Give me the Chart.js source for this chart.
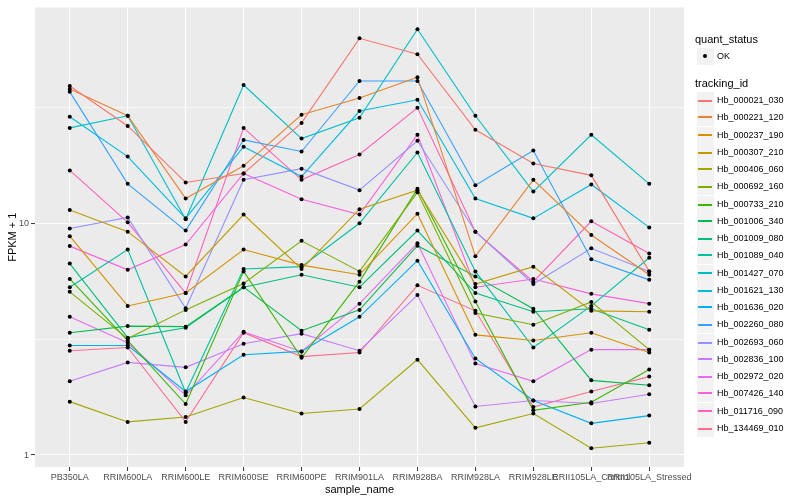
<!DOCTYPE html>
<html><head><meta charset="utf-8">
<script src="https://cdn.jsdelivr.net/npm/chart.js@4/dist/chart.umd.min.js"></script>
<style>
html,body{margin:0;padding:0;background:#fff;}
#wrap{position:relative;width:800px;height:500px;overflow:hidden;}
#c{position:absolute;left:0;top:0;}
.lg{position:absolute;font-family:"Liberation Sans",Arial,sans-serif;color:#000;white-space:nowrap;line-height:1;}
.lt{font-size:11px;}
.li{font-size:9px;}
.key{position:absolute;background:#F2F2F2;width:17px;height:17px;}
.ln{position:absolute;width:14px;height:2px;}
.key .pt{position:absolute;left:6px;top:6px;width:4px;height:4px;border-radius:50%;background:#000;}
</style></head><body>
<div id="wrap"><canvas id="c" width="800" height="500"></canvas><div id="legend"></div></div>
<script>
// ---- data ----
const categories = ["PB350LA","RRIM600LA","RRIM600LE","RRIM600SE","RRIM600PE","RRIM901LA","RRIM928BA","RRIM928LA","RRIM928LE","RRII105LA_Control","RRII105LA_Stressed"];
const trackingIds = ["Hb_000021_030","Hb_000221_120","Hb_000237_190","Hb_000307_210","Hb_000406_060","Hb_000692_160","Hb_000733_210","Hb_001006_340","Hb_001009_080","Hb_001089_040","Hb_001427_070","Hb_001621_130","Hb_001636_020","Hb_002260_080","Hb_002693_060","Hb_002836_100","Hb_002972_020","Hb_007426_140","Hb_011716_090","Hb_134469_010"];
const quantStatus = ["OK"];
const yTickValues = [1, 3.1623, 10, 31.623];
const yTickLabels = ["1", "", "10", ""];

const hb_000021_030 = [39.1, 26.3, 15.0, 16.4, 27.1, 62.8, 53.6, 25.3, 18.1, 16.1, 6.2];
const hb_000221_120 = [38.0, 29.1, 12.8, 17.7, 29.4, 34.7, 42.7, 7.2, 15.4, 8.9, 6.0];
const hb_000237_190 = [8.8, 4.4, 5.0, 7.7, 6.6, 6.0, 11.0, 3.3, 3.12, 3.37, 2.77];
const hb_000307_210 = [11.4, 9.2, 5.9, 10.9, 6.35, 11.5, 13.9, 5.47, 6.5, 4.19, 4.15];
const hb_000406_060 = [1.7, 1.39, 1.46, 1.77, 1.51, 1.58, 2.58, 1.31, 1.51, 1.07, 1.13];
const hb_000692_160 = [5.06, 3.18, 4.23, 5.5, 8.4, 6.2, 13.6, 4.1, 3.65, 4.58, 2.85];
const hb_000733_210 = [5.75, 3.12, 1.66, 6.2, 2.63, 5.6, 14.1, 4.6, 1.56, 1.69, 2.34];
const hb_001006_340 = [3.37, 3.6, 3.58, 5.3, 3.44, 4.23, 8.0, 5.9, 4.28, 2.1, 2.0];
const hb_001009_080 = [6.7, 3.21, 3.54, 5.3, 6.0, 5.3, 9.3, 5.0, 4.15, 4.28, 3.47];
const hb_001089_040 = [5.3, 7.7, 1.86, 6.35, 6.5, 10.0, 20.2, 6.2, 2.91, 4.4, 7.1];
const hb_001427_070 = [25.8, 29.1, 10.4, 39.5, 23.2, 28.5, 68.7, 29.1, 13.7, 24.1, 14.8];
const hb_001621_130 = [28.8, 19.4, 10.5, 21.4, 15.9, 30.5, 34.1, 12.8, 10.5, 14.7, 9.6];
const hb_001636_020 = [2.97, 2.97, 1.88, 2.71, 2.8, 3.95, 6.9, 2.61, 1.72, 1.37, 1.48];
const hb_002260_080 = [36.9, 14.8, 9.3, 22.9, 20.4, 41.1, 41.1, 14.6, 20.6, 7.0, 5.7];
const hb_002693_060 = [9.5, 10.6, 4.3, 15.4, 17.2, 13.9, 22.7, 9.2, 5.47, 7.8, 6.2];
const hb_002836_100 = [2.08, 2.51, 2.39, 3.02, 3.34, 2.82, 4.9, 1.62, 1.72, 1.67, 1.83];
const hb_002972_020 = [3.95, 3.05, 1.81, 3.4, 2.8, 4.5, 8.2, 2.48, 2.08, 2.85, 2.85];
const hb_007426_140 = [7.97, 6.3, 8.1, 16.4, 12.7, 10.9, 24.1, 5.3, 5.75, 4.96, 4.5];
const hb_011716_090 = [16.9, 10.1, 5.0, 25.8, 15.4, 19.8, 31.5, 9.2, 5.6, 10.2, 7.4];
const hb_134469_010 = [2.82, 2.91, 1.39, 3.37, 2.66, 2.77, 5.4, 4.19, 1.61, 1.88, 2.18];

const seriesValues = [hb_000021_030, hb_000221_120, hb_000237_190, hb_000307_210, hb_000406_060,
  hb_000692_160, hb_000733_210, hb_001006_340, hb_001009_080, hb_001089_040, hb_001427_070,
  hb_001621_130, hb_001636_020, hb_002260_080, hb_002693_060, hb_002836_100, hb_002972_020,
  hb_007426_140, hb_011716_090, hb_134469_010];

// ---- styles ----
const colors = ["#F8766D","#EA8331","#D89000","#C09B00","#A3A500","#7CAE00","#39B600","#00BB4E","#00BF7D","#00C1A3","#00BFC4","#00BAE0","#00B0F6","#35A2FF","#9590FF","#C77CFF","#E76BF3","#FA62DB","#FF62BC","#FF6C91"];
const FONT = "'Liberation Sans', Arial, sans-serif";

const toXY = vals => vals.map((v, j) => ({x: j, y: v}));
const lineSets = trackingIds.map((id, i) => ({
  label: id, data: toXY(seriesValues[i]), borderColor: colors[i], backgroundColor: colors[i],
  borderWidth: 1.1, pointRadius: 0, fill: false, tension: 0, order: 2
}));
const pointSets = trackingIds.map((id, i) => ({
  label: id + " (" + quantStatus[0] + ")", data: toXY(seriesValues[i]), showLine: false,
  pointRadius: 2, pointBackgroundColor: "#000", pointBorderWidth: 0, pointBorderColor: "#000", order: 1
}));

const panelBg = {
  id: "panelBg",
  beforeDraw(chart) {
    const {ctx, chartArea: a} = chart;
    ctx.save(); ctx.fillStyle = "#EBEBEB";
    ctx.fillRect(a.left, a.top, a.right - a.left, a.bottom - a.top);
    ctx.restore();
  }
};
const isMajor = v => yTickLabels[yTickValues.indexOf(v)] !== "";

new Chart(document.getElementById("c"), {
  type: "line",
  data: {datasets: [...lineSets, ...pointSets]},
  plugins: [panelBg],
  options: {
    responsive: false, animation: false, devicePixelRatio: 1,
    layout: {padding: {left: 0, right: 116, top: 5, bottom: 0}},
    plugins: {legend: {display: false}, tooltip: {enabled: false}},
    scales: {
      x: {
        type: "linear", min: -0.6, max: categories.length - 1 + 0.6,
        afterBuildTicks: s => { s.ticks = categories.map((c, i) => ({value: i})); },
        afterFit: s => { s.height = 33; },
        ticks: {autoSkip: false, maxRotation: 0, minRotation: 0, padding: 1, color: "#4D4D4D",
          font: {family: FONT, size: 9}, callback: v => categories[v]},
        grid: {color: "#FFFFFF", lineWidth: 1.1, tickColor: "#333333", tickLength: 4, tickWidth: 1},
        border: {display: false},
        title: {display: true, text: "sample_name", color: "#000", font: {family: FONT, size: 11}, padding: {top: 0, bottom: 3}}
      },
      y: {
        type: "logarithmic", min: 0.888, max: 85.4,
        afterBuildTicks: s => { s.ticks = yTickValues.map(v => ({value: v})); },
        afterFit: s => { s.width = 35; },
        ticks: {autoSkip: false, padding: 2, color: "#4D4D4D", font: {family: FONT, size: 9},
          callback: v => { const k = yTickValues.indexOf(v); return k >= 0 ? yTickLabels[k] : ""; }},
        grid: {color: "#FFFFFF",
          lineWidth: c => (c.tick && isMajor(c.tick.value)) ? 1.1 : 0.55,
          tickColor: c => (c.tick && isMajor(c.tick.value)) ? "#333333" : "rgba(0,0,0,0)",
          tickLength: 4, tickWidth: 1},
        border: {display: false},
        title: {display: true, text: "FPKM + 1", color: "#000", font: {family: FONT, size: 11}, padding: {top: 6, bottom: 0}}
      }
    }
  }
});

// ---- legend (HTML text) ----
const L = document.getElementById("legend");
function add(html) { L.insertAdjacentHTML("beforeend", html); }
add(`<div class="lg lt" style="left:695px;top:34px;">quant_status</div>`);
add(`<div class="key" style="left:697px;top:48px;"><div class="pt"></div></div>`);
add(`<div class="lg li" style="left:717px;top:52px;">${quantStatus[0]}</div>`);
add(`<div class="lg lt" style="left:695px;top:78px;">tracking_id</div>`);
trackingIds.forEach((id, i) => {
  const top = Math.round(92 + i * 17.26);
  const lineTop = 2 * Math.round((top + 7.5) / 2);
  add(`<div class="key" style="left:697px;top:${top}px;"></div>`);
  add(`<div class="ln" style="left:698px;top:${lineTop}px;background:${colors[i]}"></div>`);
  add(`<div class="lg li" style="left:717px;top:${top + 4}px;">${id}</div>`);
});
</script>
</body></html>
